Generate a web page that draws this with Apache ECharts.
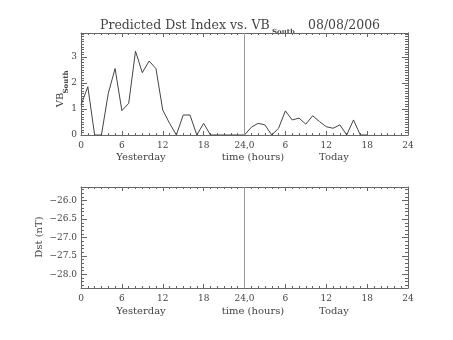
<!DOCTYPE html>
<html>
<head>
<meta charset="utf-8">
<script src="https://cdn.jsdelivr.net/npm/echarts@6/dist/echarts.min.js"></script>
<style>
  html, body { margin: 0; padding: 0; background: #fff; }
  #chart { width: 453px; height: 340px; }
</style>
</head>
<body>
<div id="chart"></div>
<script>
// Hourly VB_South over yesterday (0-23) and today (24-42)
var hours = [];
var vbSouth = [1.15, 1.86, 0, 0, 1.6, 2.56, 0.94, 1.22, 3.23, 2.4, 2.85, 2.56,
               0.96, 0.45, 0, 0.77, 0.77, 0, 0.45, 0, 0, 0, 0, 0,
               0, 0.3, 0.45, 0.39, 0, 0.26, 0.93, 0.58, 0.65, 0.42, 0.74, 0.52,
               0.32, 0.26, 0.39, 0, 0.58, 0, 0];
for (var i = 0; i < vbSouth.length; i++) hours.push(i);

// Time axis tick labels (two days, 48 hours)
var timeTicks = [0, 6, 12, 18, 24, 30, 36, 42, 48];
var timeLabels = ['0', '6', '12', '18', '24,0', '6', '12', '18', '24'];

// Axis ranges
var vbRange = [0, 3.93];
var dstRange = [-28.37, -25.63];
var dayBoundary = 24;

var FONT = 'DejaVu Serif';
var TXT = '#444';
var AX = '#666';

var chart = echarts.init(document.getElementById('chart'), null, {renderer: 'canvas'});

function xAxisDef(grid, pos, showLabels) {
  return {
    type: 'value', gridIndex: grid, position: pos,
    min: 0, max: 48, interval: 6,
    axisLine: {show: true, onZero: false, lineStyle: {color: AX, width: 1}},
    axisTick: {show: true, inside: true, length: 4, lineStyle: {color: AX}},
    minorTick: {show: true, splitNumber: 6, length: 2, lineStyle: {color: AX}},
    splitLine: {show: false},
    axisLabel: {
      show: showLabels, margin: 6, color: TXT, fontFamily: FONT, fontSize: 9,
      showMinLabel: true, showMaxLabel: true,
      formatter: function (v) {
        var k = timeTicks.indexOf(v);
        return k >= 0 ? timeLabels[k] : '';
      }
    }
  };
}

// Step-aligned ticks: bounded interval keeps ticks on multiples of the step
function yAxisDef(grid, pos, range, step, minor, showLabels, fmt) {
  return {
    type: 'value', gridIndex: grid, position: pos,
    min: range[0], max: range[1],
    splitNumber: Math.round((range[1] - range[0]) / step),
    minInterval: step, maxInterval: step,
    axisLine: {show: true, onZero: false, lineStyle: {color: AX, width: 1}},
    axisTick: {show: true, inside: true, length: 6, lineStyle: {color: AX}},
    minorTick: {show: true, splitNumber: minor, length: 3, lineStyle: {color: AX}},
    splitLine: {show: false},
    axisLabel: {
      show: showLabels, margin: 4, color: TXT, fontFamily: FONT, fontSize: 9,
      showMinLabel: true, showMaxLabel: true, formatter: fmt
    }
  };
}

function onStep(step, digits) {
  return function (v) {
    var r = Math.round(v / step) * step;
    if (Math.abs(r - v) > 1e-6) return '';
    var s = digits ? Math.abs(r).toFixed(digits) : String(Math.abs(r));
    return (r < 0 ? '\u2212' : '') + s;
  };
}

var boundaryLine = {
  silent: true, symbol: 'none',
  label: {show: false},
  lineStyle: {color: '#999', width: 1, type: 'solid'},
  data: [{xAxis: dayBoundary}]
};

var option = {
  animation: false,
  backgroundColor: '#fff',
  grid: [
    {left: 81, width: 327, top: 33, height: 102},
    {left: 81, width: 327, top: 187, height: 101}
  ],
  xAxis: [
    xAxisDef(0, 'bottom', true),
    xAxisDef(0, 'top', false),
    xAxisDef(1, 'bottom', true),
    xAxisDef(1, 'top', false)
  ],
  yAxis: [
    yAxisDef(0, 'left', vbRange, 1, 10, true, onStep(1, 0)),
    yAxisDef(0, 'right', vbRange, 1, 10, false, onStep(1, 0)),
    yAxisDef(1, 'left', dstRange, 0.5, 5, true, onStep(0.5, 1)),
    yAxisDef(1, 'right', dstRange, 0.5, 5, false, onStep(0.5, 1))
  ],
  series: [
    {
      type: 'line', xAxisIndex: 0, yAxisIndex: 0,
      data: hours.map(function (h, i) { return [h, vbSouth[i]]; }),
      showSymbol: false, symbol: 'none',
      lineStyle: {color: '#444', width: 1},
      markLine: boundaryLine
    },
    {
      type: 'line', xAxisIndex: 2, yAxisIndex: 2,
      data: [],
      showSymbol: false, symbol: 'none',
      markLine: boundaryLine
    }
  ],
  graphic: [
    // title with subscript
    {type: 'text', left: 100, top: 19, style: {text: 'Predicted Dst Index vs. VB', font: '12.5px "' + FONT + '"', fill: TXT}},
    {type: 'text', left: 272, top: 29, style: {text: 'South', font: 'bold 7px "' + FONT + '"', fill: TXT}},
    {type: 'text', left: 308, top: 19, style: {text: '08/08/2006', font: '12.5px "' + FONT + '"', fill: TXT}},
    // x-axis titles, upper panel
    {type: 'text', x: 141, y: 157, style: {text: 'Yesterday', font: '10px "' + FONT + '"', fill: TXT, align: 'center', verticalAlign: 'middle'}},
    {type: 'text', x: 253, y: 157, style: {text: 'time (hours)', font: '10px "' + FONT + '"', fill: TXT, align: 'center', verticalAlign: 'middle'}},
    {type: 'text', x: 334, y: 157, style: {text: 'Today', font: '10px "' + FONT + '"', fill: TXT, align: 'center', verticalAlign: 'middle'}},
    // x-axis titles, lower panel
    {type: 'text', x: 141, y: 311, style: {text: 'Yesterday', font: '10px "' + FONT + '"', fill: TXT, align: 'center', verticalAlign: 'middle'}},
    {type: 'text', x: 253, y: 311, style: {text: 'time (hours)', font: '10px "' + FONT + '"', fill: TXT, align: 'center', verticalAlign: 'middle'}},
    {type: 'text', x: 334, y: 311, style: {text: 'Today', font: '10px "' + FONT + '"', fill: TXT, align: 'center', verticalAlign: 'middle'}},
    // y-axis titles
    {type: 'text', x: 60, y: 100, rotation: Math.PI / 2, style: {text: 'VB', font: '10px "' + FONT + '"', fill: TXT, align: 'center', verticalAlign: 'middle'}},
    {type: 'text', x: 66, y: 82, rotation: Math.PI / 2, style: {text: 'South', font: 'bold 7px "' + FONT + '"', fill: TXT, align: 'center', verticalAlign: 'middle'}},
    {type: 'text', x: 39, y: 237, rotation: Math.PI / 2, style: {text: 'Dst (nT)', font: '10px "' + FONT + '"', fill: TXT, align: 'center', verticalAlign: 'middle'}}
  ]
};

chart.setOption(option);
</script>
</body>
</html>
